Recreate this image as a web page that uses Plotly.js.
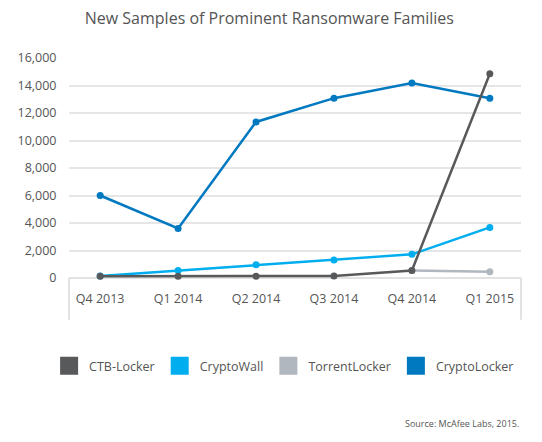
<!DOCTYPE html>
<html>
<head>
<meta charset="utf-8">
<script src="https://cdn.plot.ly/plotly-3.0.1.min.js"></script>
<style>html,body{margin:0;padding:0;background:#fff}#chart{width:542px;height:442px}</style>
</head>
<body>
<div id="chart"></div>
<script>
var quarters = ['Q4 2013', 'Q1 2014', 'Q2 2014', 'Q3 2014', 'Q4 2014', 'Q1 2015'];
var ctbLocker = [130, 130, 130, 140, 550, 14850];
var cryptoWall = [150, 540, 970, 1310, 1720, 3680];
var torrentLocker = [null, null, null, null, 550, 460];
var cryptoLocker = [6000, 3600, 11350, 13080, 14180, 13080];
var seriesNames = ['CTB-Locker', 'CryptoWall', 'TorrentLocker', 'CryptoLocker'];
var seriesColors = ['#58595b', '#00aeef', '#b1b7bf', '#0079c1'];
var seriesValues = [ctbLocker, cryptoWall, torrentLocker, cryptoLocker];

var font = '"Open Sans", "Noto Sans", sans-serif';
var traces = [];
// draw order: CryptoLocker, TorrentLocker, CryptoWall, CTB-Locker (on top)
[3, 2, 1, 0].forEach(function (i) {
  traces.push({
    type: 'scatter', mode: 'lines+markers', x: quarters, y: seriesValues[i],
    name: seriesNames[i], showlegend: false, cliponaxis: false,
    line: {color: seriesColors[i], width: 2.5},
    marker: {color: seriesColors[i], size: 7},
    hoverinfo: 'x+y+name'
  });
});
// legend entries with square symbols
seriesNames.forEach(function (n, i) {
  traces.push({
    type: 'scatter', mode: 'markers', x: [null], y: [null], name: n,
    showlegend: true,
    marker: {symbol: 'square', color: seriesColors[i], size: 16,
             line: {color: seriesColors[i], width: 2}}
  });
});

var boxColor = '#e2e2e2';
var layout = {
  width: 542, height: 442,
  margin: {l: 69, r: 21, t: 58, b: 164},
  paper_bgcolor: '#fff', plot_bgcolor: '#fff',
  font: {family: font, color: '#555', size: 12},
  title: {text: 'New Samples of Prominent Ransomware Families',
          font: {family: font, size: 16, color: '#555'},
          x: 0.497, xanchor: 'center', y: 0.958, yanchor: 'middle'},
  xaxis: {
    type: 'category', range: [-0.4, 5.4], showgrid: false, zeroline: false,
    showline: false, ticks: 'outside', ticklen: 9, tickcolor: 'rgba(0,0,0,0)',
    tickfont: {family: font, size: 12.5, color: '#555'}, fixedrange: true
  },
  yaxis: {
    range: [0, 16000], dtick: 2000, tickformat: ',d',
    showgrid: true, gridcolor: '#e6e6e6', gridwidth: 2,
    zeroline: true, zerolinecolor: boxColor, zerolinewidth: 2,
    showline: false, ticks: 'outside', ticklen: 9, tickcolor: 'rgba(0,0,0,0)',
    tickfont: {family: font, size: 12.5, color: '#555'}, fixedrange: true
  },
  shapes: [
    {type: 'line', xref: 'paper', yref: 'paper', x0: 0, x1: 0, y0: 0, y1: -0.19,
     line: {color: boxColor, width: 2}},
    {type: 'line', xref: 'paper', yref: 'paper', x0: 1, x1: 1, y0: 0, y1: -0.19,
     line: {color: boxColor, width: 2}}
  ],
  legend: {
    orientation: 'h', x: -0.044, xanchor: 'left', y: -0.4, yanchor: 'middle',
    font: {family: font, size: 12.5, color: '#555'}, bgcolor: 'rgba(0,0,0,0)',
    itemclick: false, itemdoubleclick: false
  },
  annotations: [
    {text: 'Source: McAfee Labs, 2015.', xref: 'paper', yref: 'paper',
     x: 1, xanchor: 'right', y: -0.663, yanchor: 'middle', showarrow: false,
     font: {family: font, size: 9, color: '#555'}}
  ],
  showlegend: true
};
Plotly.newPlot('chart', traces, layout, {displayModeBar: false, staticPlot: true});
</script>
</body>
</html>
